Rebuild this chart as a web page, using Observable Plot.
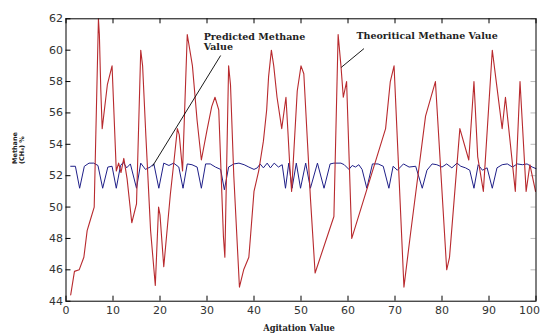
<!DOCTYPE html>
<html><head><meta charset="utf-8">
<script src="https://cdn.jsdelivr.net/npm/d3@7"></script>
<script src="https://cdn.jsdelivr.net/npm/@observablehq/plot@0.6"></script>
<style>html,body{margin:0;padding:0;background:#fff;overflow:hidden}</style>
</head><body><div id="chart"></div>
<script>
// Theoretical methane value (red)
const theoX = [1, 1.8, 2.8, 3.8, 4.5, 5, 6, 6.9, 7.1, 7.4, 7.7, 8.8, 9.8, 10.7, 11.2, 11.7, 12.3, 13, 14, 15, 15.9, 16.3, 17, 18, 19, 19.7, 20, 20.8, 22.2, 23, 23.7, 24.1, 24.8, 25.8, 26.9, 27.9, 28.8, 30, 31, 31.7, 32.5, 33.5, 33.8, 34.6, 35, 35.7, 36.9, 37.8, 38.9, 39.3, 40, 41, 42, 42.7, 43.1, 43.7, 44.2, 44.9, 45.9, 46.8, 47.2, 47.6, 48, 49.2, 50, 50.6, 51.4, 52, 53, 57, 57.9, 58.5, 59, 59.7, 60.8, 68, 69, 69.8, 71.9, 73.3, 76.5, 78.6, 81, 81.6, 83.8, 85.7, 86.8, 87.6, 88.8, 90.7, 92.8, 93.5, 95.6, 96.6, 97.9, 98.7, 99.9];
const theoY = [44.4, 45.9, 46, 46.8, 48.5, 49, 50, 62, 61, 57.5, 55, 57.8, 59, 52.3, 52.8, 52.2, 53.1, 51.8, 49, 50.2, 60, 59, 54.5, 48.5, 45, 50, 49.5, 46.2, 50.8, 53, 55, 54.6, 52.3, 61, 59, 55.5, 53, 54.9, 56.4, 57, 56.2, 48.1, 46.8, 59, 57.8, 52, 44.9, 46, 46.8, 48.3, 51, 52.3, 54.2, 56.2, 58.3, 60, 59, 57, 55, 57, 54.9, 52.7, 51, 57.4, 59, 58.5, 54, 50.6, 45.8, 49.4, 61, 59, 57, 58, 48, 55, 58, 59, 44.9, 48.3, 55.8, 58, 46, 46.8, 55, 53, 58, 53.2, 51, 60, 55, 57, 51, 58, 51, 52.7, 51];
// Predicted methane value (blue)
const predX = [1, 2, 2.9, 3.9, 4.9, 5.9, 6.8, 7.8, 8.9, 9.8, 10.7, 11.6, 12.2, 12.9, 13.7, 15, 15.9, 16.9, 17.9, 18.7, 19.75, 20.8, 21.9, 22.9, 24, 24.9, 25.8, 26.8, 27.9, 28.8, 29.7, 30.7, 31.8, 32.9, 33.7, 34.6, 35.7, 36.8, 37.9, 38.9, 40, 40.7, 41.3, 42, 42.8, 43.5, 44.3, 45.2, 46, 46.7, 47.4, 48.1, 49, 49.9, 51, 52, 53.5, 54.9, 56.2, 57, 58.5, 59.2, 60.2, 60.9, 61.6, 62.3, 63, 64, 65.2, 66.4, 67.5, 68.7, 69.6, 70.5, 71.8, 73, 74.4, 75.8, 76.8, 77.9, 78.9, 80, 81, 82.1, 83.2, 84, 85, 85.9, 86.8, 87.7, 88.6, 89.6, 90.7, 91.7, 92.8, 93.9, 95, 96, 97.1, 98.1, 99.2, 100];
const predY = [52.6, 52.6, 51.2, 52.6, 52.8, 52.8, 52.65, 51.2, 52.55, 52.6, 51.2, 52.65, 52.85, 52.5, 52.75, 51.2, 52.8, 52.4, 52.55, 52.75, 51.2, 52.8, 52.65, 52.8, 52.55, 51.2, 52.75, 52.7, 52.55, 51.2, 52.75, 52.75, 52.55, 52.4, 51.1, 52.55, 52.75, 52.8, 52.7, 52.55, 52.4, 52.5, 52.75, 52.5, 52.8, 52.5, 52.8, 52.55, 52.7, 51.2, 52.8, 51.2, 52.8, 51.2, 52.8, 51.2, 52.8, 51.2, 52.75, 52.8, 52.8, 52.7, 52.4, 52.65, 52.55, 52.7, 52.4, 51.2, 52.75, 52.75, 52.6, 51.2, 52.6, 52.35, 52.75, 52.55, 52.6, 51.2, 52.35, 52.75, 52.7, 52.55, 52.75, 52.5, 52.8, 52.6, 52.5, 52.35, 51.2, 52.7, 52.35, 52.5, 51.2, 52.5, 52.7, 52.75, 52.55, 52.75, 52.7, 52.75, 52.55, 52.45];
const xTicks = [0, 10, 20, 30, 40, 50, 60, 70, 80, 90, 100];
const yTicks = [44, 46, 48, 50, 52, 54, 56, 58, 60, 62];
const xLabel = "Agitation Value";
const yLabel = "Methane\n(CH\u2084) %";
const predLabel = ["Predicted Methane", "Value"];
const theoLabel = "Theoritical Methane Value";

const theo = theoX.map((x, i) => ({x, y: theoY[i]}));
const pred = predX.map((x, i) => ({x, y: predY[i]}));
const xMax = d3.max(xTicks);

const serif = "'DejaVu Serif', 'Liberation Serif', serif";
const chart = Plot.plot({
  width: 540, height: 333,
  marginLeft: 65.5, marginRight: 4.5, marginTop: 18.3, marginBottom: 32.3,
  style: {fontFamily: "'DejaVu Sans', sans-serif", fontSize: "11px", color: "#333", background: "#fff"},
  x: {domain: [0, 100]},
  y: {domain: [44, 62]},
  marks: [
    Plot.axisX({ticks: xTicks.filter(t => t < xMax), tickSize: 0, tickPadding: 5, label: null, fill: "#333"}),
    Plot.axisX({ticks: [xMax], tickSize: 0, tickPadding: 5, label: null, fill: "#333", textAnchor: "end", dx: 4}),
    Plot.axisY({ticks: yTicks, tickSize: 0, tickPadding: 3, label: null, fill: "#333"}),
    Plot.ruleX(xTicks, {x: d => d, y1: 44, y2: 44.32, stroke: "#000"}),
    Plot.ruleX(xTicks, {x: d => d, y1: 62, y2: 61.68, stroke: "#000"}),
    Plot.ruleY(yTicks, {y: d => d, x1: 0, x2: 1.06, stroke: "#000"}),
    Plot.ruleY(yTicks, {y: d => d, x1: 100, x2: 98.94, stroke: "#bbb"}),
    Plot.line(pred, {x: "x", y: "y", stroke: "#1f1f88", strokeWidth: 1}),
    Plot.line(theo, {x: "x", y: "y", stroke: "#b82a2e", strokeWidth: 1.1}),
    Plot.link([0], {x1: 32.9, y1: 59.66, x2: 18.4, y2: 52.6, stroke: "#000", strokeWidth: 0.9}),
    Plot.link([0], {x1: 63.4, y1: 60.1, x2: 58.55, y2: 58.9, stroke: "#000", strokeWidth: 0.9}),
    Plot.text([predLabel[0]], {x: 29.3, y: 60.68, text: d => d, textAnchor: "start", lineAnchor: "bottom", fontFamily: serif, fontWeight: "bold", fontSize: 9.5, fill: "#222"}),
    Plot.text([predLabel[1]], {x: 29.3, y: 59.98, text: d => d, textAnchor: "start", lineAnchor: "bottom", fontFamily: serif, fontWeight: "bold", fontSize: 9.5, fill: "#222"}),
    Plot.text([theoLabel], {x: 61.8, y: 60.71, text: d => d, textAnchor: "start", lineAnchor: "bottom", fontFamily: serif, fontWeight: "bold", fontSize: 9.5, fill: "#222"}),
    Plot.text([xLabel], {frameAnchor: "bottom", dx: -2, dy: 29.5, text: d => d, lineAnchor: "bottom", fontFamily: serif, fontWeight: "bold", fontSize: 8.3, fill: "#222"}),
    Plot.text([yLabel], {frameAnchor: "left", dx: -47.5, dy: 4, rotate: -90, text: d => d, fontWeight: "bold", fontSize: 6.5, lineHeight: 1.05, fill: "#222"}),
    Plot.frame({stroke: "#000"})
  ]
});
document.getElementById("chart").appendChild(chart);
</script>
</body></html>
